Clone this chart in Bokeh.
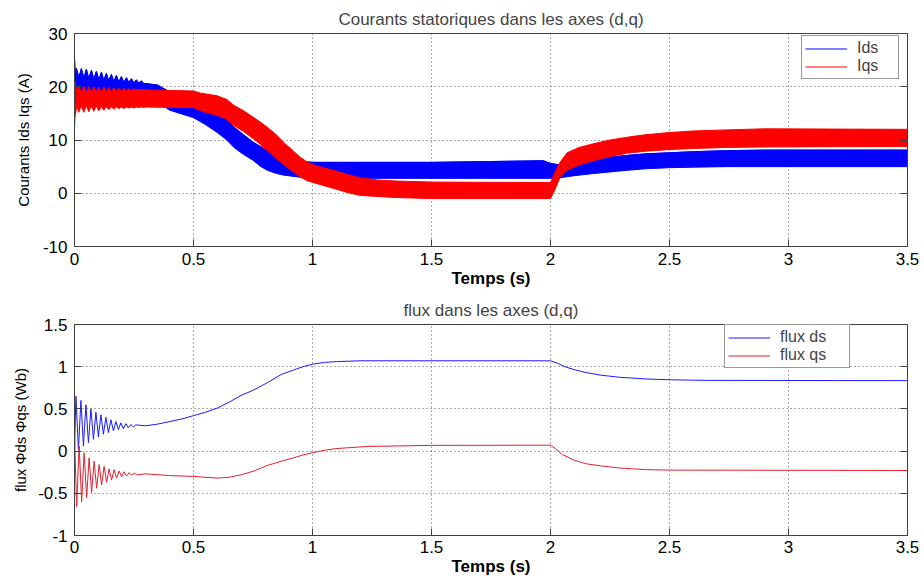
from bokeh.plotting import figure
from bokeh.layouts import column
from bokeh.models import LinearAxis, FixedTicker, Legend, LegendItem
from bokeh.embed import file_html
from bokeh.resources import INLINE

# ---------------- data ----------------
x_ticks = [0, 0.5, 1, 1.5, 2, 2.5, 3, 3.5]
x_tick_labels = ["0", "0.5", "1", "1.5", "2", "2.5", "3", "3.5"]
y1_ticks = [-10, 0, 10, 20, 30]
y1_tick_labels = ["-10", "0", "10", "20", "30"]
y2_ticks = [-1, -0.5, 0, 0.5, 1, 1.5]
y2_tick_labels = ["-1", "-0.5", "0", "0.5", "1", "1.5"]

# Ids band (upper / lower envelope of the oscillating current)
ids_hi_t = [0.000, 0.004, 0.008, 0.018, 0.029, 0.039, 0.050, 0.060, 0.071, 0.081,
            0.092, 0.102, 0.113, 0.123, 0.134, 0.144, 0.155, 0.165, 0.176, 0.186,
            0.197, 0.207, 0.218, 0.228, 0.239, 0.249, 0.260, 0.270, 0.281, 0.291,
            0.30, 0.35, 0.40, 0.45, 0.50, 0.55, 0.60, 0.64, 0.67, 0.71, 0.75, 0.78,
            0.81, 0.85, 0.88, 0.92, 0.95, 1.00, 1.50, 1.97, 2.00, 2.04, 2.10, 2.18,
            2.25, 2.32, 2.40, 2.50, 2.60, 2.74, 2.90, 3.50]
ids_hi = [25.3, 21.5, 23.5, 21.7, 23.4, 21.6, 23.3, 21.5, 23.1, 21.4,
          22.9, 21.3, 22.7, 21.2, 22.5, 21.1, 22.3, 21.0, 22.1, 20.9,
          21.9, 20.8, 21.7, 20.8, 21.5, 20.7, 21.3, 20.7, 21.1, 20.6,
          20.6, 20.3, 19.0, 17.8, 16.8, 16.0, 15.0, 13.8, 12.4, 11.0, 9.6, 8.8,
          8.0, 7.1, 6.6, 6.1, 6.0, 5.8, 5.8, 6.1, 5.6, 5.3, 5.8, 6.4,
          6.8, 7.1, 7.4, 7.6, 7.8, 8.0, 8.1, 8.1]
ids_lo_t = [0.000, 0.004, 0.30, 0.36, 0.40, 0.45, 0.50, 0.55, 0.60, 0.64, 0.67,
            0.71, 0.75, 0.78, 0.81, 0.85, 0.88, 0.95, 1.00, 2.00, 2.04, 2.10,
            2.18, 2.25, 2.32, 2.40, 2.50, 2.60, 2.74, 3.50]
ids_lo = [12.0, 17.5, 17.3, 16.8, 15.6, 14.9, 14.2, 12.9, 11.4, 10.0, 8.6,
          7.3, 6.2, 5.1, 4.3, 3.7, 3.4, 3.0, 2.8, 2.8, 2.9, 3.3,
          3.7, 4.0, 4.3, 4.6, 4.8, 4.9, 5.0, 5.0]

# Iqs band
iqs_t = [0.003, 0.010, 0.018, 0.029, 0.039, 0.050, 0.060, 0.071, 0.081, 0.092,
         0.102, 0.113, 0.123, 0.134, 0.144, 0.155, 0.165, 0.176, 0.186, 0.197,
         0.207, 0.218, 0.228, 0.239, 0.249, 0.260, 0.270, 0.281, 0.291,
         0.30, 0.41, 0.50, 0.53, 0.60, 0.64, 0.67, 0.71, 0.75, 0.78, 0.81, 0.85,
         0.88, 0.92, 0.95, 0.98, 1.02, 1.09, 1.15, 1.20, 1.27, 1.35, 1.50,
         2.00, 2.02, 2.04, 2.07, 2.12, 2.18, 2.25, 2.32, 2.40, 2.50, 2.60,
         2.74, 2.90, 3.50]
iqs_hi = [21.0, 18.9, 20.2, 18.9, 20.1, 18.9, 20.0, 19.0, 20.0, 19.0,
          19.9, 19.0, 19.9, 19.1, 19.8, 19.1, 19.8, 19.2, 19.7, 19.2,
          19.7, 19.3, 19.6, 19.3, 19.6, 19.4, 19.5, 19.4, 19.5,
          19.4, 19.3, 19.2, 18.8, 18.3, 17.6, 16.5, 15.5, 14.3, 13.4, 12.4, 10.9,
          9.5, 7.9, 6.7, 5.8, 5.1, 4.3, 3.5, 2.9, 2.5, 2.3, 2.1,
          2.0, 4.0, 5.8, 7.6, 8.6, 9.3, 10.0, 10.5, 11.0, 11.4, 11.7,
          11.9, 12.1, 12.0]
iqs_lo = [14.5, 16.5, 15.2, 16.5, 15.2, 16.5, 15.3, 16.4, 15.4, 16.4,
          15.5, 16.3, 15.6, 16.3, 15.7, 16.2, 15.8, 16.2, 15.9, 16.2,
          15.9, 16.2, 16.0, 16.2, 16.0, 16.2, 16.1, 16.2, 16.1,
          16.2, 16.1, 16.1, 15.5, 14.6, 13.9, 12.7, 11.6, 10.3, 9.2, 8.0, 6.5,
          5.3, 4.0, 3.0, 2.3, 1.8, 0.9, 0.1, -0.4, -0.6, -0.8, -1.0,
          -1.0, 0.8, 3.0, 4.3, 5.3, 6.1, 6.9, 7.5, 7.9, 8.2, 8.4,
          8.6, 8.7, 8.8]

# flux ds
fds_t = [0.000, 0.006, 0.0165, 0.027, 0.0375, 0.048, 0.0585, 0.069, 0.0795, 0.090,
         0.1005, 0.111, 0.1215, 0.132, 0.1425, 0.153, 0.1635, 0.174, 0.1845, 0.195,
         0.2055, 0.216, 0.2265, 0.237, 0.2475, 0.258,
         0.30, 0.35, 0.40, 0.45, 0.50, 0.55, 0.60, 0.65, 0.70, 0.75, 0.81, 0.87,
         0.92, 0.96, 1.00, 1.05, 1.10, 1.20, 2.00, 2.03, 2.06, 2.10, 2.15, 2.21,
         2.29, 2.40, 2.50, 2.65, 3.50]
fds = [0.0, 0.65, 0.02, 0.60, 0.06, 0.55, 0.10, 0.50, 0.14, 0.46,
       0.17, 0.43, 0.20, 0.40, 0.22, 0.37, 0.24, 0.35, 0.255, 0.335,
       0.265, 0.325, 0.275, 0.315, 0.285, 0.31,
       0.30, 0.32, 0.35, 0.38, 0.42, 0.46, 0.51, 0.58, 0.66, 0.72, 0.81, 0.91,
       0.96, 1.00, 1.03, 1.05, 1.06, 1.07, 1.07, 1.04, 1.00, 0.965, 0.93, 0.90,
       0.875, 0.855, 0.845, 0.838, 0.835]

# flux qs
fqs_t = [0.000, 0.009, 0.0195, 0.030, 0.0405, 0.051, 0.0615, 0.072, 0.0825, 0.093,
         0.1035, 0.114, 0.1245, 0.135, 0.1455, 0.156, 0.1665, 0.177, 0.1875, 0.198,
         0.2085, 0.219, 0.2295, 0.240, 0.2505, 0.261,
         0.30, 0.40, 0.50, 0.60, 0.65, 0.70, 0.75, 0.81, 0.87, 0.92, 0.96, 1.00,
         1.05, 1.10, 1.23, 1.50, 2.00, 2.02, 2.05, 2.10, 2.15, 2.21, 2.29, 2.40,
         2.50, 3.50]
fqs = [0.20, -0.66, 0.06, -0.60, -0.02, -0.55, -0.08, -0.49, -0.12, -0.44,
       -0.16, -0.40, -0.18, -0.37, -0.21, -0.34, -0.22, -0.32, -0.235, -0.305,
       -0.245, -0.295, -0.255, -0.285, -0.26, -0.28,
       -0.27, -0.29, -0.30, -0.32, -0.31, -0.28, -0.24, -0.17, -0.12, -0.08, -0.045, -0.02,
       0.01, 0.03, 0.055, 0.068, 0.07, 0.03, -0.04, -0.11, -0.15, -0.175, -0.20, -0.22,
       -0.225, -0.23]

FONT = "Liberation Sans"
AX = "#404040"


def style(p, yticks, ylabels, title_standoff):
    p.background_fill_color = "white"
    p.border_fill_color = "white"
    p.outline_line_color = AX
    p.outline_line_width = 1
    for ax, ticks, labels in ((p.xaxis[0], x_ticks, x_tick_labels),
                              (p.yaxis[0], yticks, ylabels)):
        ax.ticker = FixedTicker(ticks=ticks)
        ax.major_label_overrides = {t: l for t, l in zip(ticks, labels)}
        ax.major_tick_in = 7
        ax.major_tick_out = 0
        ax.minor_tick_line_color = None
        ax.axis_line_color = AX
        ax.major_tick_line_color = AX
        ax.major_label_text_font = FONT
        ax.major_label_text_font_size = "17px"
        ax.major_label_text_color = "black"
        ax.axis_label_text_font = FONT
        ax.axis_label_text_font_style = "normal"
        ax.axis_label_text_color = "black"
    p.xaxis.major_label_standoff = 6
    p.yaxis.major_label_standoff = 7
    p.xaxis.axis_label = "Temps (s)"
    p.xaxis.axis_label_text_font_size = "17px"
    p.xaxis.axis_label_text_font_style = "bold"
    p.xaxis.axis_label_standoff = 1
    p.xgrid.ticker = FixedTicker(ticks=x_ticks)
    p.ygrid.ticker = FixedTicker(ticks=yticks)
    for g in (p.xgrid, p.ygrid):
        g.grid_line_color = "#555555"
        g.grid_line_dash = "1 3"
        g.grid_line_width = 1
    # mirrored ticks on the right (box style), without labels
    r = LinearAxis(ticker=FixedTicker(ticks=yticks),
                   major_label_overrides={t: "" for t in yticks},
                   major_tick_in=7, major_tick_out=0, major_label_standoff=0,
                   minor_tick_line_color=None, axis_line_color=AX,
                   major_tick_line_color=AX)
    p.add_layout(r, "right")
    p.title.text_font = FONT
    p.title.text_font_size = "17px"
    p.title.text_font_style = "normal"
    p.title.align = "center"
    p.title.standoff = title_standoff


def legend(items, loc, label_width):
    return Legend(items=items, location=loc, border_line_color="#333333",
                  border_line_width=1, background_fill_color="white",
                  background_fill_alpha=1, label_text_font=FONT,
                  label_text_font_size="16px", glyph_width=42, glyph_height=17,
                  label_height=17, label_standoff=10, label_width=label_width,
                  padding=3, spacing=0, margin=0)


# ---------------- top: currents ----------------
p1 = figure(width=924, height=290, x_range=(0, 3.5), y_range=(-10, 30),
            output_backend="svg", toolbar_location=None,
            title="Courants statoriques dans les axes (d,q)",
            min_border_left=74, min_border_right=17, min_border_top=33,
            min_border_bottom=44)
style(p1, y1_ticks, y1_tick_labels, 9)
p1.yaxis[0].axis_label = "Courants Ids Iqs (A)"
p1.yaxis[0].axis_label_text_font_size = "15px"
p1.yaxis[0].axis_label_standoff = 8

p1.patch(x=ids_hi_t + ids_lo_t[::-1], y=ids_hi + ids_lo[::-1],
         fill_color="#0000ff", line_color="#0000ff", line_width=1)
r_ids = p1.line(x=ids_hi_t, y=ids_hi, line_color="#0000ff", line_width=1)
p1.varea(x=iqs_t, y1=iqs_lo, y2=iqs_hi, fill_color="#ff0000")
r_iqs = p1.line(x=iqs_t, y=iqs_hi, line_color="#ff0000", line_width=1)
p1.line(x=iqs_t, y=iqs_lo, line_color="#ff0000", line_width=1)

p1.add_layout(legend([LegendItem(label="Ids", renderers=[r_ids]),
                      LegendItem(label="Iqs", renderers=[r_iqs])], (727, 167), 38))

# ---------------- bottom: flux ----------------
p2 = figure(width=924, height=288, x_range=(0, 3.5), y_range=(-1, 1.5),
            output_backend="svg", toolbar_location=None,
            title="flux dans les axes (d,q)",
            min_border_left=74, min_border_right=17, min_border_top=34,
            min_border_bottom=41)
style(p2, y2_ticks, y2_tick_labels, 10)
p2.xaxis.major_label_standoff = 5
p2.yaxis[0].axis_label = "flux Φds Φqs (Wb)"
p2.yaxis[0].axis_label_text_font_size = "15px"
p2.yaxis[0].axis_label_standoff = 6

r_fds = p2.line(x=fds_t, y=fds, line_color="#1a1aff", line_width=1)
r_fqs = p2.line(x=fqs_t, y=fqs, line_color="#e02030", line_width=1)

p2.add_layout(legend([LegendItem(label="flux ds", renderers=[r_fds]),
                      LegendItem(label="flux qs", renderers=[r_fqs])], (650, 167), 66))

layout = column(p1, p2, spacing=0)
open("out.html", "w").write(file_html(layout, INLINE))
